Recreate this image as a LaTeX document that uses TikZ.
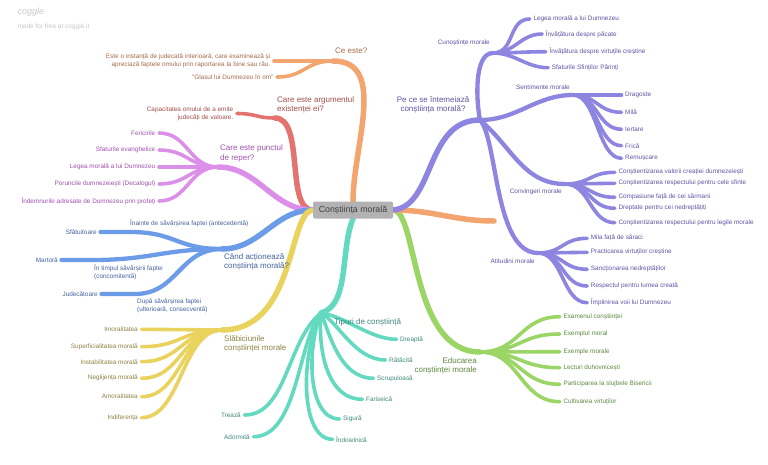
\documentclass[tikz,border=0pt]{standalone}
\usepackage{fontspec}
\setmainfont{Liberation Sans}
\usetikzlibrary{positioning, backgrounds}
\definecolor{orline}{HTML}{F3A56F}
\definecolor{ortext}{HTML}{A8694A}
\definecolor{redline}{HTML}{E2736E}
\definecolor{redtext}{HTML}{A24D48}
\definecolor{pinkline}{HTML}{DB8FE8}
\definecolor{pinktext}{HTML}{A050AE}
\definecolor{blueline}{HTML}{6C9CE8}
\definecolor{bluetext}{HTML}{44619E}
\definecolor{yelline}{HTML}{E9D35E}
\definecolor{yeltext}{HTML}{8E8243}
\definecolor{tealline}{HTML}{63D9C0}
\definecolor{tealtext}{HTML}{3E8779}
\definecolor{grnline}{HTML}{9BD565}
\definecolor{grntext}{HTML}{5C8840}
\definecolor{purline}{HTML}{8D85E0}
\definecolor{purtext}{HTML}{5B54A6}
\tikzstyle{trunkline} = [line width=5.5pt, line cap=round]
\tikzstyle{twigline} = [line width=4.3pt, line cap=round]
\tikzstyle{leafline} = [line width=3.6pt, line cap=round]
\tikzstyle{leafl} = [anchor=east, inner xsep=3.5pt, inner ysep=1pt, align=right,
  font=\fontsize{6.4}{7.8}\selectfont]
\tikzstyle{leafr} = [anchor=west, inner xsep=3.5pt, inner ysep=1pt, align=left,
  font=\fontsize{6.4}{7.8}\selectfont]
\tikzstyle{topic} = [inner sep=1pt, font=\fontsize{8}{9.5}\selectfont]
\tikzstyle{rootbox} = [fill=black!30, rounded corners=2pt, text=black!75,
  minimum width=80pt, minimum height=17pt, font=\fontsize{8.8}{10}\selectfont]

\begin{document}
\begin{tikzpicture}[x=1pt, y=-1pt]
    \useasboundingbox (0,0) rectangle (768,464);
    \node[anchor=west, text=black!22, font=\itshape\fontsize{9}{10}\selectfont] (logo) at (14,12) {coggle};
    \node[anchor=west, text=black!22, font=\fontsize{6.5}{8}\selectfont] (free) at (14,27) {made for free at coggle.it};

    \node[rootbox] (moral) at (353,210) {Conștiința morală};

    \coordinate (ce) at (333,61);
    \coordinate (ar) at (275,118);
    \coordinate (rp) at (218,167);
    \coordinate (ca) at (222,249);
    \coordinate (sl) at (222,330);
    \coordinate (tp) at (321,313);
    \coordinate (ed) at (480,352);
    \coordinate (oe) at (494,221);
    \coordinate (pc) at (480,120);

    \begin{scope}[on background layer]
      \draw[trunkline, orline] (moral.north) .. controls (353,146) and (388,61) .. (ce);
      \draw[trunkline, redline] (moral.west) .. controls (285,210) and (305,118) .. (ar);
      \draw[trunkline, pinkline] (moral.west) to[out=180,in=0] (rp);
      \draw[trunkline, blueline] (moral.west) to[out=180,in=0] (ca);
      \draw[trunkline, yelline] (moral.west) .. controls (288,212) and (296,330) .. (sl);
      \draw[trunkline, tealline] (moral.south) .. controls (340,250) and (350,305) .. (tp);
      \draw[trunkline, grnline] (moral.east) .. controls (418,212) and (410,352) .. (ed);
      \draw[trunkline, orline] (moral.east) to[out=0,in=180] (oe);
      \draw[trunkline, purline] (moral.east) .. controls (435,206) and (425,120) .. (pc);
    \end{scope}

    % Ce este?
    \node[topic, anchor=west, text=ortext] (ceL) at (334,51) {Ce este?};
    \node[leafl, text=ortext] (ce1) at (274,61) {Este o instanță de judecată interioară, care examinează și\\apreciază faptele omului prin raportarea la bine sau rău.};
    \node[leafl, text=ortext] (ce2) at (277,77) {"Glasul lui Dumnezeu în om"};
    \draw[leafline, orline] (ce) -- (ce1.east);
    \draw[leafline, orline] (ce) to[out=180,in=0,distance=28pt] (ce2.east);

    % argument
    \node[topic, anchor=west, align=left, text=redtext] (arL) at (276,104.7) {Care este argumentul\\existenței ei?};
    \node[leafl, text=redtext] (ar1) at (237,113.5) {Capacitatea omului de a emite\\judecăți de valoare.};
    \draw[leafline, redline] (ar) to[out=180,in=0,distance=19pt] (ar1.east);

    % reper
    \node[topic, anchor=west, align=left, text=pinktext] (rpL) at (219,153.3) {Care este punctul\\de reper?};
    \foreach \txt/\yy [count=\i] in {Fericirile/133, Sfaturile evanghelice/150, Legea morală a lui Dumnezeu/167,
      Poruncile dumnezeiești (Decalogul)/184, Îndemnurile adresate de Dumnezeu prin profeți/201}{
      \node[leafl, text=pinktext] (rp\i) at (159,\yy) {\txt};
      \draw[leafline, pinkline] (rp) to[out=180,in=0,distance=29pt] (rp\i.east);
    }

    % cand
    \node[topic, anchor=west, align=left, text=bluetext] (caL) at (223,262) {Când acționează\\conștiința morală?};
    \coordinate (ant) at (130,232);
    \coordinate (con) at (92,260);
    \coordinate (ult) at (135,294);
    \node[leafr, text=bluetext] (antL) at (126.5,223) {Înainte de săvârșirea faptei (antecedentă)};
    \node[leafr, text=bluetext] (conL) at (90.5,272) {În timpul săvârșirii faptei\\(concomitentă)};
    \node[leafr, text=bluetext] (ultL) at (133.5,306) {După săvârșirea faptei\\(ulterioară, consecventă)};
    \node[leafl, text=bluetext] (ant1) at (100.5,232) {Sfătuitoare};
    \node[leafl, text=bluetext] (con1) at (61.5,260) {Martoră};
    \node[leafl, text=bluetext] (ult1) at (101.5,294) {Judecătoare};
    \draw[twigline, blueline] (ca) to[out=180,in=0,distance=46pt] (ant) -- (ant1.east);
    \draw[twigline, blueline] (ca) to[out=180,in=0,distance=60pt] (con) -- (con1.east);
    \draw[twigline, blueline] (ca) to[out=180,in=0,distance=43pt] (ult) -- (ult1.east);

    % slabiciunile
    \node[topic, anchor=west, align=left, text=yeltext] (slL) at (223,343.7) {Slăbiciunile\\conștiinței morale};
    \foreach \txt/\yy [count=\i] in {Imoralitatea/329.3, Superficialitatea morală/346.7, Instabilitatea morală/361.7,
      Neglijența morală/378.3, Amoralitatea/396.7, Indiferența/417.7}{
      \node[leafl, text=yeltext] (sl\i) at (141.5,\yy) {\txt};
      \draw[leafline, yelline] (sl) to[out=180,in=0,distance=40pt] (sl\i.east);
    }

    % tipuri
    \foreach \txt/\xx/\yy/\ax/\ay/\bx [count=\i] in {Dreaptă/396.5/339.3/345/316/370, Rătăcită/385.5/360/338/322/355,
      Scrupuloasă/373.5/378.3/330/335/340, Fariseică/362.5/399.3/318/345/325,
      Sigură/339.5/419/306/350/308, Îndoielnică/332.5/439.3/300/355/300}{
      \node[leafr, text=tealtext] (tr\i) at (\xx,\yy) {\txt};
      \draw[leafline, tealline] (tp) .. controls (\ax,\ay) and (\bx,\yy) .. (tr\i.west);
    }
    \foreach \txt/\xx/\yy/\ax [count=\i] in {Trează/244.5/415/287, Adormită/253.5/436.7/298}{
      \node[leafl, text=tealtext] (tl\i) at (\xx,\yy) {\txt};
      \draw[leafline, tealline] (tp) .. controls (\ax,340) and (\ax,\yy) .. (tl\i.east);
    }
    \node[topic, anchor=west, text=tealtext] (tpL) at (333,322) {Tipuri de conștiință};

    % educarea
    \node[topic, anchor=east, align=right, text=grntext] (edL) at (478,365.8) {Educarea\\conștiinței morale};
    \foreach \txt/\yy [count=\i] in {Examenul conștiinței/316.7, Exemplul moral/334, Exemple morale/351.7,
      Lecturi duhovnicești/367.7, Participarea la slujbele Bisericii/384.3, Cultivarea virtuților/401.7}{
      \node[leafr, text=grntext] (ed\i) at (559.8,\yy) {\txt};
      \draw[leafline, grnline] (ed) to[out=0,in=180,distance=40pt] (ed\i.west);
    }

    % pe ce se intemeiaza
    \node[topic, align=center, text=purtext] (pcL) at (433,105) {Pe ce se întemeiază\\conștiința morală?};
    \coordinate (cun) at (493,53);
    \coordinate (sen) at (573,95);
    \coordinate (conv) at (565,184);
    \coordinate (atit) at (538,253);
    \node[leafl, text=purtext] (cunL) at (493.5,43) {Cunoștințe morale};
    \node[leafl, text=purtext] (senL) at (573.5,87) {Sentimente morale};
    \node[leafl, text=purtext] (convL) at (565.5,192) {Convingeri morale};
    \node[leafl, text=purtext] (atitL) at (538.5,261) {Atitudini morale};
    \draw[twigline, purline] (pc) .. controls (476,100) and (474,53) .. (cun);
    \draw[twigline, purline] (pc) to[out=0,in=180] (sen);
    \draw[twigline, purline] (pc) to[out=-40,in=180] (conv);
    \draw[twigline, purline] (pc) .. controls (498,140) and (494,253) .. (atit);
    \foreach \txt/\xx/\yy [count=\i] in {Legea morală a lui Dumnezeu/529.8/19, Învățătura despre păcate/542.2/34,
      Învățătura despre virtuțile creștine/545.8/51.7, Sfaturile Sfinților Părinți/548.2/67.7}{
      \node[leafr, text=purtext] (cun\i) at (\xx,\yy) {\txt};
      \draw[leafline, purline] (cun) to[out=0,in=180,distance=22pt] (cun\i.west);
    }
    \foreach \txt/\yy [count=\i] in {Dragoste/95, Milă/112.3, Iertare/129.3, Frică/145.7, Remușcare/158.3}{
      \node[leafr, text=purtext] (sen\i) at (621.5,\yy) {\txt};
      \draw[leafline, purline] (sen) to[out=0,in=180,distance=24pt] (sen\i.west);
    }
    \foreach \txt/\yy [count=\i] in {Conștientizarea valorii creației dumnezeiești/172.3,
      Conștientizarea respectului pentru cele sfinte/183.3, Compasiune față de cei sărmani/197.3,
      Dreptate pentru cei nedreptățiți/208.3, Conștientizarea respectului pentru legile morale/222.7}{
      \node[leafr, text=purtext] (conv\i) at (614.8,\yy) {\txt};
      \draw[leafline, purline] (conv) to[out=0,in=180,distance=25pt] (conv\i.west);
    }
    \foreach \txt/\yy [count=\i] in {Mila față de săraci/238.3, Practicarea virtuților creștine/252.3,
      Sancționarea nedreptăților/269.3, Respectul pentru lumea creată/286, Împlinirea voii lui Dumnezeu/302.7}{
      \node[leafr, text=purtext] (atit\i) at (587.2,\yy) {\txt};
      \draw[leafline, purline] (atit) to[out=0,in=180,distance=25pt] (atit\i.west);
    }
  \end{tikzpicture}
\end{document}
